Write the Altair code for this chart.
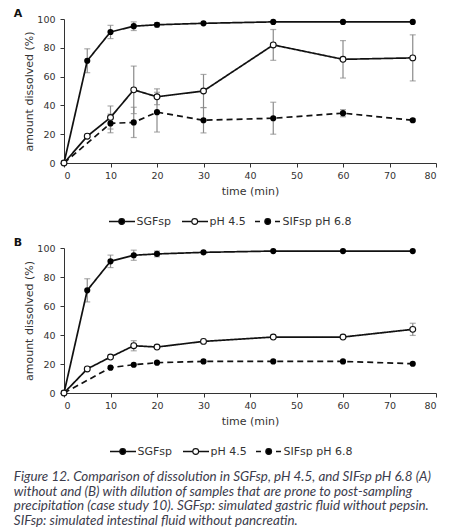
import altair as alt
import pandas as pd

series_names = ["SGFsp", "pH 4.5", "SIFsp pH 6.8"]

time_full = [0, 5, 10, 15, 20, 30, 45, 60, 75]
time_sif = [0, 10, 15, 20, 30, 45, 60, 75]

# Panel A: without dilution
a_sgf = [0, 71, 91, 95, 96, 97, 98, 98, 98]
a_sgf_err = [0, 8.3, 4.6, 3, 1.5, 0, 0, 0, 0]
a_ph = [0, 18.6, 31.6, 50.8, 46, 50, 82, 72, 73]
a_ph_err = [0, 0, 8, 16.5, 5.5, 11.5, 10.7, 13, 16]
a_sif = [0, 27.5, 28.2, 35.3, 29.7, 31.1, 34.6, 29.7]
a_sif_err = [0, 6.5, 10.5, 13.8, 8.8, 11.1, 2.5, 1]

# Panel B: with dilution
b_sgf = [0, 70.8, 90.8, 95, 95.9, 97, 97.9, 97.9, 97.9]
b_sgf_err = [0, 8, 4.3, 3.5, 2, 0, 0, 0, 0]
b_ph = [0, 16.6, 24.8, 32.6, 31.7, 35.6, 38.6, 38.6, 43.9]
b_ph_err = [0, 0, 0, 3.5, 0, 0, 0, 0, 4.2]
b_sif = [0, 17.5, 19.5, 20.9, 21.8, 21.8, 21.8, 20.2]
b_sif_err = [0, 0, 0, 0, 0, 0, 0, 0]

x_ticks = [0, 10, 20, 30, 40, 50, 60, 70, 80]
y_ticks = [0, 20, 40, 60, 80, 100]

caption_lines = [
    "Figure 12.  Comparison of dissolution in SGFsp, pH 4.5, and SIFsp pH 6.8 (A)",
    "without and (B) with dilution of samples that are prone to post-sampling",
    "precipitation (case study 10). SGFsp: simulated gastric fluid without pepsin.",
    "SIFsp: simulated intestinal fluid without pancreatin.",
]

# legend key styling per series
legend_dash = [[1, 0], [1, 0], [5, 15]]
legend_fill = ["#000000", "#ffffff", "#000000"]


def build_df(sgf, sgf_e, ph, ph_e, sif, sif_e):
    rows = []
    for name, ts, vs, es in [
        (series_names[0], time_full, sgf, sgf_e),
        (series_names[1], time_full, ph, ph_e),
        (series_names[2], time_sif, sif, sif_e),
    ]:
        for t, v, e in zip(ts, vs, es):
            rows.append({"series": name, "t": t, "v": v, "err": e,
                         "lo": v - e, "hi": v + e})
    return pd.DataFrame(rows)


FONT = "DejaVu Sans"

X_SCALE = alt.Scale(domain=[0, 80], nice=False)
Y_SCALE = alt.Scale(domain=[0, 100], nice=False)
X_AXIS = alt.Axis(values=x_ticks, title="time (min)", labelOverlap=False)
Y_AXIS = alt.Axis(values=y_ticks, title="amount dissolved (%)", labelOverlap=False)


def xq(field):
    return alt.X(field, type="quantitative", scale=X_SCALE, axis=X_AXIS)


def yq(field):
    return alt.Y(field, type="quantitative", scale=Y_SCALE, axis=Y_AXIS)


def panel(df, label, h):
    base = alt.Chart(df)
    errdf = base.transform_filter("datum.err > 0")
    err_rule = errdf.mark_rule(color="#8a8a8a", strokeWidth=1.2).encode(
        x=xq("t"), y=yq("lo"), y2="hi:Q")
    cap_top = errdf.mark_tick(color="#8a8a8a", orient="horizontal", size=6,
                              thickness=1.2).encode(x=xq("t"), y=yq("hi"))
    cap_bot = errdf.mark_tick(color="#8a8a8a", orient="horizontal", size=6,
                              thickness=1.2).encode(x=xq("t"), y=yq("lo"))
    lines = base.mark_line(color="#111111", strokeWidth=1.7).encode(
        x=xq("t"), y=yq("v"), detail="series:N",
        strokeDash=alt.StrokeDash("series:N",
                                  scale=alt.Scale(domain=series_names,
                                                  range=[[1, 0], [1, 0], [6, 4]]),
                                  legend=None))
    filled = base.transform_filter(
        f"datum.series != '{series_names[1]}'").mark_point(
        shape="circle", size=38, filled=True, color="#000000", opacity=1).encode(
        x=xq("t"), y=yq("v"))
    open_pts = base.transform_filter(
        f"datum.series == '{series_names[1]}'").mark_point(
        shape="circle", size=34, fill="white", stroke="#111111",
        strokeWidth=1.1, opacity=1, filled=False).encode(x=xq("t"), y=yq("v"))
    return alt.layer(err_rule, cap_top, cap_bot, lines, filled, open_pts).properties(
        width=372, height=h,
        title=alt.TitleParams(label, anchor="start", frame="bounds",
                              font=FONT, fontSize=11, fontWeight="bold",
                              color="#111111", dx=-10, offset=-5))


def legend_row(x0):
    ldf = pd.DataFrame({"series": series_names})
    lx = alt.X("series:N", axis=None,
               scale=alt.Scale(type="point", domain=series_names,
                               range=[x0, x0 + 146], padding=0))
    lbase = alt.Chart(ldf)
    key_line = lbase.mark_rule(strokeWidth=1.6, color="#111111",
                               xOffset=0, x2Offset=26).encode(
        x=lx, x2="series:N", y=alt.value(14.5),
        strokeDash=alt.StrokeDash("series:N",
                                  scale=alt.Scale(domain=series_names,
                                                  range=legend_dash),
                                  legend=None))
    key_pt = lbase.mark_point(shape="circle", size=34, stroke="#111111",
                              strokeWidth=1.1, opacity=1, xOffset=12.7).encode(
        x=lx, y=alt.value(14.5),
        fill=alt.Fill("series:N",
                      scale=alt.Scale(domain=series_names, range=legend_fill),
                      legend=None))
    key_txt = lbase.mark_text(align="left", baseline="middle", dx=27.5,
                              font=FONT, fontSize=11, color="#333333").encode(
        x=lx, y=alt.value(14.5), text="series:N")
    return alt.layer(key_line, key_pt, key_txt).resolve_scale(
        strokeDash="independent", fill="independent").properties(
        width=372, height=20)


df_a = build_df(a_sgf, a_sgf_err, a_ph, a_ph_err, a_sif, a_sif_err)
df_b = build_df(b_sgf, b_sgf_err, b_ph, b_ph_err, b_sif, b_sif_err)

chart = alt.vconcat(
    panel(df_a, "A", 144), legend_row(45),
    panel(df_b, "B", 145), legend_row(46),
    spacing=10,
).resolve_scale(x="independent", y="independent", strokeDash="independent",
                fill="independent").properties(
    title=alt.TitleParams(caption_lines, orient="bottom", anchor="start",
                          frame="bounds", font="Lato", fontStyle="italic",
                          fontWeight="normal",
                          fontSize=13.4, lineHeight=14.7, color="#3c3c4c",
                          offset=13)
).configure(
    padding={"left": 5, "top": 0, "right": 5, "bottom": 0}
).configure_view(stroke=None).configure_axis(
    grid=False, domainColor="#333333", tickColor="#333333", domainWidth=1,
    tickSize=4, labelFont=FONT, labelFontSize=9.5, labelColor="#333333",
    titleFont=FONT, titleFontSize=11, titleFontWeight="normal",
    titleColor="#333333", labelPadding=3,
).configure_axisY(titlePadding=2, labelPadding=5).configure_axisX(titlePadding=6)

chart.save("out.html", embed_options={"renderer": "svg", "actions": False})
